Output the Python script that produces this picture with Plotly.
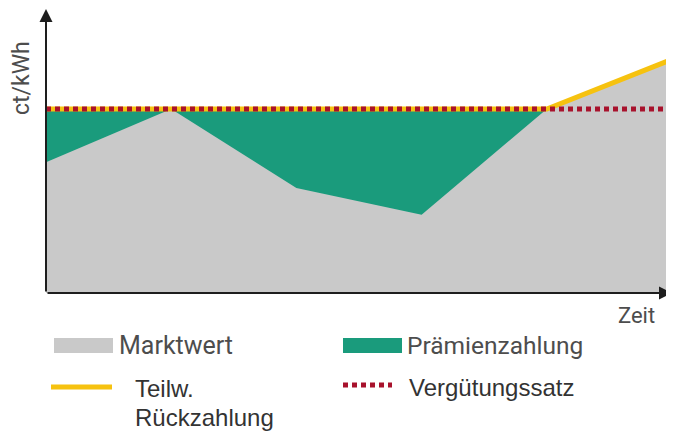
import plotly.graph_objects as go

# ---- data ----
zeit = [0, 1, 2, 3, 4, 5]
marktwert = [7.1, 10.0, 5.7, 4.25, 10.0, 12.7]
verguetungssatz = [10, 10, 10, 10, 10, 10]
teilw_rueckzahlung = [10, 10, 10, 10, 10, 12.7]
legend_labels = ["Marktwert", "Prämienzahlung", "Teilw.", "Rückzahlung", "Vergütungssatz"]
axis_labels = ["ct/kWh", "Zeit"]

GRAY = "#c9c9c9"
GREEN = "#1a9b7c"
YELLOW = "#f6c20f"
RED = "#a8122c"

# page body has an 8px margin: figure origin sits at (8, 8) of the window
OFF = 8
W, H = 674 - OFF, 431 - OFF
X0, X1 = 46, 672      # plot area in window pixels
Y0, Y1 = 8, 293
L, R = X0 - OFF, W - (X1 - OFF)
T, B = Y0 - OFF, H - (Y1 - OFF)
PW, PH = X1 - X0, Y1 - Y0


def px(x):
    return (x - X0) / PW


def py(y):
    return (Y1 - y) / PH


fig = go.Figure()
fig.add_trace(go.Scatter(x=zeit, y=verguetungssatz, mode="none", fill="tozeroy",
                         fillcolor=GREEN, showlegend=False, hoverinfo="skip"))
fig.add_trace(go.Scatter(x=zeit, y=marktwert, mode="none", fill="tozeroy",
                         fillcolor=GRAY, showlegend=False, hoverinfo="skip"))
fig.add_trace(go.Scatter(x=zeit, y=teilw_rueckzahlung, mode="lines",
                         line=dict(color=YELLOW, width=5), showlegend=False,
                         hoverinfo="skip", cliponaxis=False))
fig.add_trace(go.Scatter(x=zeit, y=verguetungssatz, mode="lines",
                         line=dict(color=RED, width=5, dash="5px,4px"), showlegend=False,
                         hoverinfo="skip", cliponaxis=False))

shapes = [
    dict(type="rect", xref="paper", yref="paper", x0=px(54), x1=px(113), y0=py(353), y1=py(338),
         fillcolor=GRAY, line=dict(width=0)),
    dict(type="rect", xref="paper", yref="paper", x0=px(343), x1=px(402), y0=py(353), y1=py(338),
         fillcolor=GREEN, line=dict(width=0)),
    dict(type="line", xref="paper", yref="paper", x0=px(51), x1=px(112), y0=py(387), y1=py(387),
         line=dict(color=YELLOW, width=5)),
    dict(type="line", xref="paper", yref="paper", x0=px(343), x1=px(392), y0=py(385), y1=py(385),
         line=dict(color=RED, width=5, dash="5px,4px")),
]

big = dict(family="Roboto, Liberation Sans, sans-serif", size=25, color="#4d4d4d")
small = dict(family="Liberation Sans, Arial, sans-serif", size=24, color="#333333")

annotations = [
    dict(xref="paper", yref="paper", x=0, y=1, ax=0, ay=PH, axref="pixel", ayref="pixel",
         showarrow=True, arrowhead=2, arrowsize=1.3, arrowwidth=2, arrowcolor="#1e1e1e", text="",
         standoff=0, startstandoff=0),
    dict(xref="paper", yref="paper", x=1, y=0, ax=-PW, ay=0, axref="pixel", ayref="pixel",
         showarrow=True, arrowhead=2, arrowsize=1.3, arrowwidth=2, arrowcolor="#1e1e1e", text="",
         standoff=0, startstandoff=0),
    dict(xref="paper", yref="paper", x=px(21), y=py(78), text=axis_labels[0], textangle=-90,
         showarrow=False, xanchor="center", yanchor="middle",
         font=dict(family="Roboto, Liberation Sans, sans-serif", size=23, color="#4d4d4d")),
    dict(xref="paper", yref="paper", x=px(616), y=py(315), text=axis_labels[1],
         showarrow=False, xanchor="left", yanchor="middle",
         font=dict(family="Roboto, Liberation Sans, sans-serif", size=22, color="#4d4d4d")),
    dict(xref="paper", yref="paper", x=px(117), y=py(345), text=legend_labels[0],
         showarrow=False, xanchor="left", yanchor="middle", font=big),
    dict(xref="paper", yref="paper", x=px(405), y=py(345), text=legend_labels[1],
         showarrow=False, xanchor="left", yanchor="middle",
         font=dict(family=big["family"], size=24.5, color=big["color"])),
    dict(xref="paper", yref="paper", x=px(133), y=py(388), text=legend_labels[2],
         showarrow=False, xanchor="left", yanchor="middle", font=small),
    dict(xref="paper", yref="paper", x=px(133), y=py(417), text=legend_labels[3],
         showarrow=False, xanchor="left", yanchor="middle", font=small),
    dict(xref="paper", yref="paper", x=px(407), y=py(387), text=legend_labels[4],
         showarrow=False, xanchor="left", yanchor="middle", font=small),
]

fig.update_layout(
    width=W, height=H,
    margin=dict(l=L, r=R, t=T, b=B, pad=0),
    paper_bgcolor="white", plot_bgcolor="white",
    xaxis=dict(visible=False, range=[0, 5], fixedrange=True),
    yaxis=dict(visible=False, range=[0, PH / 18.4], fixedrange=True),
    shapes=shapes, annotations=annotations, showlegend=False,
)

fig.write_html("out.html", config={"displayModeBar": False})
